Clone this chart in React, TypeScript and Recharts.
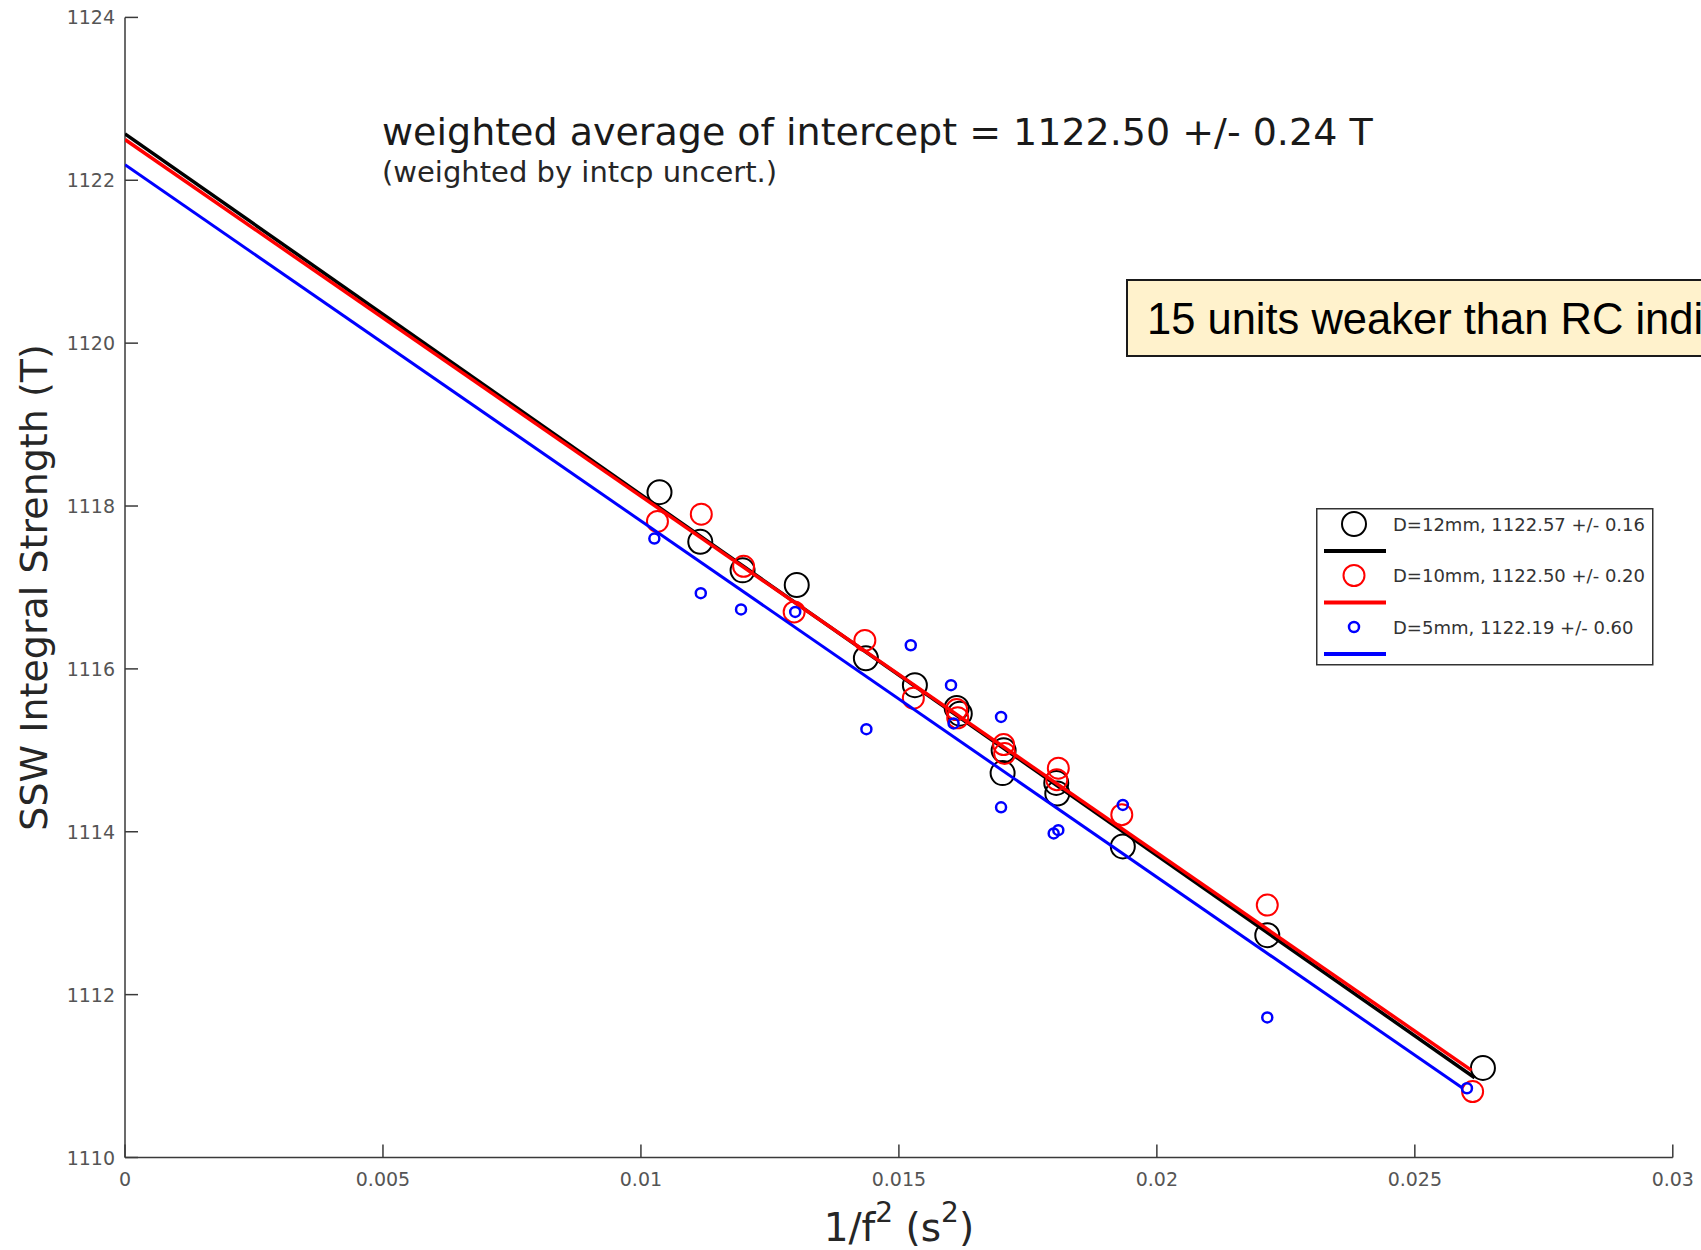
import React from 'react';
import { ScatterChart, Scatter, XAxis, YAxis, Legend } from 'recharts';

const FONT = '"DejaVu Sans", "Noto Sans", sans-serif';
const AXIS = '#3a3a3a';
const TICK_TEXT = '#555555';

// Axis ticks
const xTicks = [0, 0.005, 0.01, 0.015, 0.02, 0.025, 0.03];
const yTicks = [1110, 1112, 1114, 1116, 1118, 1120, 1122, 1124];

// D = 12 mm measurements
const d12X = [0.01036, 0.01115, 0.01197, 0.01302, 0.01436, 0.01531, 0.01612, 0.01618, 0.01703, 0.01701, 0.01805, 0.01807, 0.01934, 0.02214, 0.02632];
const d12Y = [1118.17, 1117.56, 1117.21, 1117.03, 1116.13, 1115.8, 1115.52, 1115.45, 1115.0, 1114.72, 1114.6, 1114.47, 1113.82, 1112.73, 1111.1];

// D = 10 mm measurements
const d10X = [0.01032, 0.01117, 0.01199, 0.01297, 0.01434, 0.01528, 0.01612, 0.01614, 0.01703, 0.01705, 0.01809, 0.01806, 0.01932, 0.02214, 0.02612];
const d10Y = [1117.81, 1117.9, 1117.26, 1116.7, 1116.35, 1115.64, 1115.5, 1115.4, 1115.07, 1114.96, 1114.78, 1114.64, 1114.21, 1113.1, 1110.81];

// D = 5 mm measurements
const d5X = [0.01026, 0.01116, 0.01194, 0.01299, 0.01437, 0.01523, 0.01601, 0.01606, 0.01698, 0.01698, 0.018, 0.01809, 0.01934, 0.02214, 0.02601];
const d5Y = [1117.6, 1116.93, 1116.73, 1116.7, 1115.26, 1116.29, 1115.8, 1115.33, 1115.41, 1114.3, 1113.98, 1114.02, 1114.33, 1111.72, 1110.85];

// Linear fits (start at intercept, end at last measurement)
const fit12X = [0, 0.02616];
const fit12Y = [1122.57, 1110.98];
const fit10X = [0, 0.0261];
const fit10Y = [1122.5, 1111.07];
const fit5X = [0, 0.02593];
const fit5Y = [1122.19, 1110.85];

const seriesNames = ['D=12mm, 1122.57 +/- 0.16', 'D=10mm, 1122.50 +/- 0.20', 'D=5mm, 1122.19 +/- 0.60'];
const seriesColors = ['#000000', '#ff0000', '#0000ff'];
const markerRadius = [12, 10.5, 5];

const annotationMain = 'weighted average of intercept = 1122.50 +/- 0.24 T';
const annotationSub = '(weighted by intcp uncert.)';
const noteText = '15 units weaker than RC indi';

const zip = (xs: number[], ys: number[]) => xs.map((x, i) => ({ x, y: ys[i] }));

const ring = (r: number, color: string, sw: number) => (props: any) => {
  if (props.cx == null || props.cy == null) return <g />;
  return <circle cx={props.cx} cy={props.cy} r={r} fill="none" stroke={color} strokeWidth={sw} />;
};

const noShape = () => <g />;

const XTick = (props: any) => {
  const { x, y, payload } = props;
  return (
    <g>
      <line x1={x} y1={y} x2={x} y2={y - 13} stroke={AXIS} strokeWidth={1.5} />
      <text x={x} y={y + 28.5} textAnchor="middle" fontSize={19} fill={TICK_TEXT} fontFamily={FONT}>
        {String(payload.value)}
      </text>
    </g>
  );
};

const YTick = (props: any) => {
  const { x, y, payload } = props;
  return (
    <g>
      <line x1={x} y1={y} x2={x + 13} y2={y} stroke={AXIS} strokeWidth={1.5} />
      <text x={x - 10} y={y + 7} textAnchor="end" fontSize={19} fill={TICK_TEXT} fontFamily={FONT}>
        {String(payload.value)}
      </text>
    </g>
  );
};

const XLabel = (props: any) => {
  const vb = props.viewBox || { x: 125, y: 1157.5, width: 1548 };
  const cx = vb.x + vb.width / 2;
  return (
    <text x={cx} y={vb.y + 83} textAnchor="middle" fontSize={39} fill="#262626" fontFamily={FONT}>
      <tspan>1/f</tspan>
      <tspan fontSize={28} dy={-19}>2</tspan>
      <tspan dy={19}> (s</tspan>
      <tspan fontSize={28} dy={-19}>2</tspan>
      <tspan dy={19}>)</tspan>
    </text>
  );
};

const YLabel = (props: any) => {
  const vb = props.viewBox || { x: 65, y: 17.4, height: 1140 };
  const cy = vb.y + vb.height / 2;
  const bx = 47.5;
  return (
    <text x={bx} y={cy} textAnchor="middle" fontSize={38} fill="#262626" fontFamily={FONT} transform={`rotate(-90, ${bx}, ${cy})`}>
      SSW Integral Strength (T)
    </text>
  );
};

const renderLegend = () => (
  <svg width={338} height={158} style={{ display: 'block' }}>
    <rect x={0.75} y={0.75} width={336} height={156} fill="#ffffff" stroke="#333333" strokeWidth={1.5} />
    {seriesNames.map((name, i) => {
      const rowY = 16 + i * 51.5;
      return (
        <g key={name}>
          <circle cx={38} cy={rowY} r={markerRadius[i]} fill="none" stroke={seriesColors[i]} strokeWidth={i === 2 ? 2.5 : 2} />
          <text x={77} y={rowY + 6.5} fontSize={18} fill="#333333" fontFamily={FONT}>
            {name}
          </text>
          <line x1={8} y1={rowY + 27} x2={70} y2={rowY + 27} stroke={seriesColors[i]} strokeWidth={4} />
        </g>
      );
    })}
  </svg>
);

export default function App() {
  return (
    <div style={{ position: 'absolute', left: 0, top: 0, width: 1701, height: 1250, overflow: 'hidden', background: '#ffffff' }}>
      <ScatterChart width={1701} height={1250} margin={{ top: 17.4, right: 28.2, bottom: 32.5, left: 65 }}>
        <XAxis
          type="number"
          dataKey="x"
          domain={[0, 0.03]}
          ticks={xTicks}
          interval={0}
          tickSize={0}
          tickMargin={0}
          tickLine={false}
          axisLine={{ stroke: AXIS, strokeWidth: 1.5 }}
          tick={(p: any) => <XTick {...p} />}
          height={60}
          allowDataOverflow
          label={(p: any) => <XLabel {...p} />}
        />
        <YAxis
          type="number"
          dataKey="y"
          domain={[1110, 1124]}
          ticks={yTicks}
          interval={0}
          tickSize={0}
          tickMargin={0}
          tickLine={false}
          axisLine={{ stroke: AXIS, strokeWidth: 1.5 }}
          tick={(p: any) => <YTick {...p} />}
          width={60}
          allowDataOverflow
          label={(p: any) => <YLabel {...p} />}
        />
        <Legend
          layout="vertical"
          align="center"
          verticalAlign="middle"
          content={renderLegend}
          wrapperStyle={{ left: 1316, top: 508, width: 338, height: 158 }}
        />
        <Scatter name={seriesNames[0]} data={zip(d12X, d12Y)} shape={ring(markerRadius[0], seriesColors[0], 2)} isAnimationActive={false} />
        <Scatter data={zip(fit12X, fit12Y)} line={{ stroke: seriesColors[0], strokeWidth: 3.5 }} lineType="joint" shape={noShape} legendType="none" isAnimationActive={false} />
        <Scatter name={seriesNames[1]} data={zip(d10X, d10Y)} shape={ring(markerRadius[1], seriesColors[1], 2)} isAnimationActive={false} />
        <Scatter data={zip(fit10X, fit10Y)} line={{ stroke: seriesColors[1], strokeWidth: 3.5 }} lineType="joint" shape={noShape} legendType="none" isAnimationActive={false} />
        <Scatter name={seriesNames[2]} data={zip(d5X, d5Y)} shape={ring(markerRadius[2], seriesColors[2], 2.5)} isAnimationActive={false} />
        <Scatter data={zip(fit5X, fit5Y)} line={{ stroke: seriesColors[2], strokeWidth: 3 }} lineType="joint" shape={noShape} legendType="none" isAnimationActive={false} />
      </ScatterChart>
      <svg width={1701} height={1250} style={{ position: 'absolute', left: 0, top: 0, pointerEvents: 'none' }}>
        <text x={382} y={145} fontSize={38} fill="#1a1a1a" fontFamily={FONT}>
          {annotationMain}
        </text>
        <text x={382} y={182} fontSize={29} fill="#262626" fontFamily={FONT}>
          {annotationSub}
        </text>
        <rect x={1127} y={280} width={620} height={76} fill="#fff2cc" stroke="#1a1a1a" strokeWidth={2} />
        <text x={1147} y={334} fontSize={43.5} fill="#000000" fontFamily='"Liberation Sans", Arial, sans-serif'>
          {noteText}
        </text>
      </svg>
    </div>
  );
}
